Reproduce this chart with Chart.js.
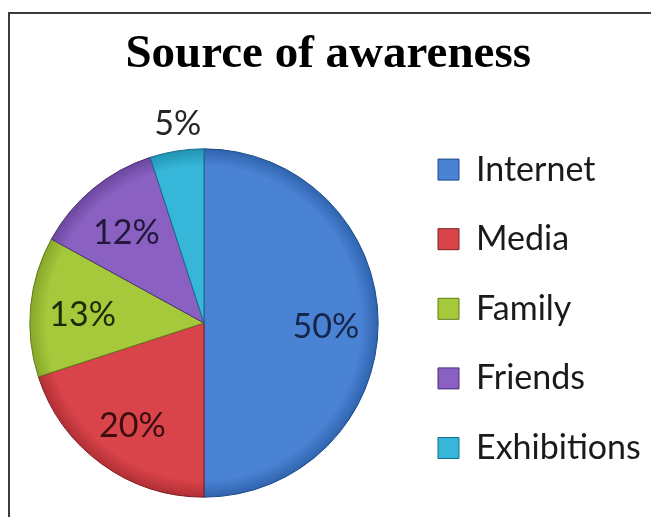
<!DOCTYPE html>
<html>
<head>
<meta charset="utf-8">
<title>Source of awareness</title>
<script src="https://cdn.jsdelivr.net/npm/chart.js@4.4.0/dist/chart.umd.min.js"></script>
<style>
  html, body { margin: 0; padding: 0; background: #fff; overflow: hidden; }
  #wrap { position: relative; width: 651px; height: 517px; }
  #frame { position: absolute; left: 8px; top: 12px; right: -10px; bottom: -10px;
           border: 2px solid #3c3c3c; pointer-events: none; }
</style>
</head>
<body>
<div id="wrap">
  <canvas id="awarenessChart" width="651" height="517"></canvas>
  <div id="frame"></div>
</div>
<script>
// chart data
var categories = ['Internet', 'Media', 'Family', 'Friends', 'Exhibitions'];
var shares = [50, 20, 13, 12, 5];

// colours (office style palette, slightly brighter like the picture)
var sliceColors = ['#4a82d4', '#d9444a', '#a6c93c', '#8a61c2', '#36b6d8'];
var rimColors = ['#2f63ad', '#b02f35', '#86a62a', '#6a479e', '#2292b2'];
var edgeColors = ['#1c4a8a', '#7f2024', '#5f7c18', '#4b2f75', '#16708a'];
var labelColors = ['#15264a', '#3b0d0f', '#1e2a08', '#22183a', '#262626'];

var labelFont = { family: 'Lato', size: 34 };
var legendPad = 35.6;
var legendBox = 21;

// work out the paddings so the legend squares sit at x~438 and the pie centre at x~204
var measure = document.createElement('canvas').getContext('2d');
measure.font = labelFont.size + 'px ' + labelFont.family;
var longest = Math.max.apply(null, categories.map(function (c) { return measure.measureText(c).width; }));
var legendWidth = legendPad + legendBox + labelFont.size / 2 + longest + 10;
var padRight = Math.max(0, 651 - (438 - legendPad) - legendWidth);
var legendLeft = 651 - padRight - legendWidth;
var padLeft = Math.max(0, 2 * 204 - legendLeft);

// percentage labels inside the slices (small slice gets its label outside)
var sliceLabels = {
    id: 'sliceLabels',
    afterDatasetsDraw: function (chart) {
        var ctx = chart.ctx;
        var meta = chart.getDatasetMeta(0);
        ctx.save();
        ctx.font = labelFont.size + 'px ' + labelFont.family;
        ctx.textAlign = 'center';
        ctx.textBaseline = 'middle';
        meta.data.forEach(function (arc, i) {
            var p = arc.getProps(['x', 'y', 'startAngle', 'endAngle', 'outerRadius'], true);
            var mid = (p.startAngle + p.endAngle) / 2;
            var r = p.outerRadius * (shares[i] < 8 ? 1.18 : 0.70);
            var dx = shares[i] < 8 ? 6 : 0;
            ctx.fillStyle = labelColors[i];
            ctx.fillText(shares[i] + '%', p.x + Math.cos(mid) * r + dx, p.y + Math.sin(mid) * r + 4);
        });
        ctx.restore();
    }
};

function sliceFill(c) {
    var area = c.chart.chartArea;
    var i = c.dataIndex;
    if (!area) return sliceColors[i];
    var cx = (area.left + area.right) / 2;
    var cy = (area.top + area.bottom) / 2;
    var r = Math.min(area.width, area.height) / 2 * 0.9;
    var g = c.chart.ctx.createRadialGradient(cx, cy, 0, cx, cy, r);
    g.addColorStop(0, sliceColors[i]);
    g.addColorStop(0.9, sliceColors[i]);
    g.addColorStop(1, rimColors[i]);
    return g;
}

var awarenessChart = new Chart(document.getElementById('awarenessChart'), {
    type: 'pie',
    data: {
        labels: categories,
        datasets: [{
            data: shares,
            backgroundColor: sliceFill,
            borderColor: edgeColors,
            borderWidth: 1,
            hoverOffset: 0,
            radius: '90%'
        }]
    },
    options: {
        responsive: false,
        animation: false,
        devicePixelRatio: 1,
        layout: { padding: { left: padLeft, right: padRight, top: 0, bottom: 0 } },
        plugins: {
            tooltip: { enabled: false },
            title: {
                display: true,
                text: 'Source of awareness',
                color: '#000',
                font: { family: '"Liberation Serif", "Times New Roman", serif', size: 47, weight: 'bold', lineHeight: 1.2 },
                padding: { top: 27, bottom: 129 - 27 - 47 * 1.2 }
            },
            legend: {
                position: 'right',
                align: 'start',
                title: { display: true, text: '', font: { size: 10, lineHeight: 1 }, padding: { top: 107, bottom: 0 } },
                labels: {
                    boxWidth: legendBox,
                    boxHeight: legendBox,
                    padding: legendPad,
                    color: '#1a1a1a',
                    font: labelFont,
                    generateLabels: function () {
                        return categories.map(function (name, i) {
                            return {
                                text: name,
                                fillStyle: sliceColors[i],
                                strokeStyle: edgeColors[i],
                                lineWidth: 1,
                                fontColor: '#1a1a1a',
                                hidden: false,
                                index: i
                            };
                        });
                    }
                }
            }
        }
    },
    plugins: [sliceLabels]
});
</script>
</body>
</html>
